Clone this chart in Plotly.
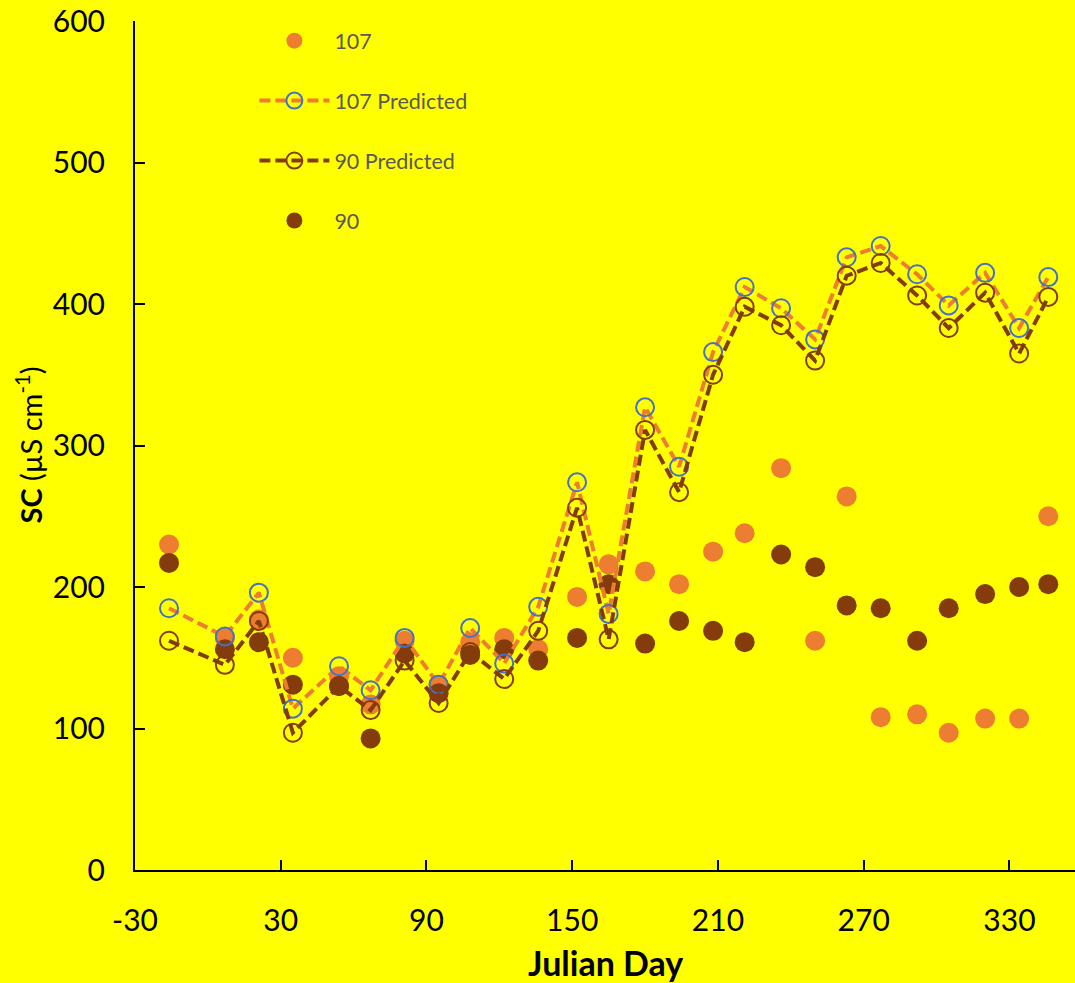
import plotly.graph_objects as go

# Sampling days (Julian day, negative = previous December)
days = [-16, 7, 21, 35, 54, 67, 81, 95, 108, 122, 136, 152, 165,
        180, 194, 208, 221, 236, 250, 263, 277, 292, 305, 320, 334, 346]

# Specific conductance, µS cm-1
sc_107 = [230, 164, 177, 150, 137, 117, 162, 131, 161, 164, 156, 193, 216,
          211, 202, 225, 238, 284, 162, 264, 108, 110, 97, 107, 107, 250]
sc_90 = [217, 156, 161, 131, 130, 93, 153, 125, 152, 156, 148, 164, 202,
         160, 176, 169, 161, 223, 214, 187, 185, 162, 185, 195, 200, 202]
sc_107_pred = [185, 165, 196, 114, 144, 127, 164, 131, 171, 146, 186, 274, 181,
               327, 285, 366, 412, 397, 375, 433, 441, 421, 399, 422, 383, 419]
sc_90_pred = [162, 145, 176, 97, 130, 113, 148, 118, 154, 135, 169, 256, 163,
              311, 267, 350, 398, 385, 360, 420, 429, 406, 383, 408, 365, 405]

x_ticks = [-30, 30, 90, 150, 210, 270, 330]
y_ticks = [0, 100, 200, 300, 400, 500, 600]

ORANGE = "#ED7D31"
BROWN = "#843C0C"
BLUE = "#4472C4"
BG = "#FFFF00"
FONT = "Lato"

fig = go.Figure()

# observed points first so the predicted lines sit on top
fig.add_trace(go.Scatter(
    x=days, y=sc_107, name="107", mode="markers", legendrank=1, legendgroup="a",
    marker=dict(size=20, color=ORANGE, line=dict(width=0)),
))
fig.add_trace(go.Scatter(
    x=days, y=sc_90, name="90", mode="markers", legendrank=4, legendgroup="d",
    marker=dict(size=20, color=BROWN, line=dict(width=0)),
))
fig.add_trace(go.Scatter(
    x=days, y=sc_107_pred, name="107 Predicted", mode="lines+markers",
    legendrank=2, legendgroup="b",
    line=dict(color=ORANGE, width=4, dash="11px,5px"),
    marker=dict(size=18, color="rgba(0,0,0,0)", symbol="circle",
                line=dict(color=BLUE, width=2)),
))
fig.add_trace(go.Scatter(
    x=days, y=sc_90_pred, name="90 Predicted", mode="lines+markers",
    legendrank=3, legendgroup="c",
    line=dict(color=BROWN, width=4, dash="11px,5px"),
    marker=dict(size=18, color="rgba(0,0,0,0)", symbol="circle",
                line=dict(color=BROWN, width=2)),
))

axis_common = dict(
    showgrid=False, zeroline=False, showline=True, linecolor="black",
    linewidth=2, ticks="inside", ticklen=10, tickwidth=2, tickcolor="black",
    tickfont=dict(family=FONT, size=30, color="black"),
)

fig.update_xaxes(range=[-30, 357], tickvals=x_ticks,
                 ticktext=[str(v) for v in x_ticks],
                 ticklabelstandoff=23, **axis_common)
fig.update_yaxes(range=[0, 600], tickvals=y_ticks,
                 ticktext=[str(v) for v in y_ticks],
                 ticklabelstandoff=22, **axis_common)

fig.add_annotation(
    text="Julian Day", xref="paper", yref="paper", x=0.5, y=-0.109,
    xanchor="center", yanchor="middle", showarrow=False,
    font=dict(family=FONT, size=34, color="black", weight="bold"),
)
fig.add_annotation(
    text="<b>SC</b> (µS cm<sup>-1</sup>)", xref="paper", yref="paper",
    x=-0.1138, y=0.5, xanchor="center", yanchor="middle", showarrow=False,
    textangle=-90, font=dict(family=FONT, size=29, color="black"),
)

fig.update_layout(
    width=1075, height=983,
    margin=dict(l=135, r=0, t=21, b=113),
    paper_bgcolor=BG, plot_bgcolor=BG,
    showlegend=True,
    legend=dict(
        x=0.127, y=1.001, xanchor="left", yanchor="top",
        bgcolor="rgba(0,0,0,0)", tracegroupgap=29, itemwidth=70,
        font=dict(family=FONT, size=21.5, color="#595959"),
    ),
)

fig.write_html("out.html")
